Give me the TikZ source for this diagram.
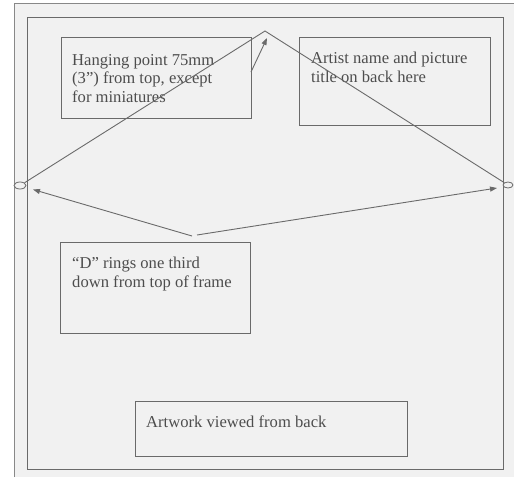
\documentclass[tikz,border=0pt]{standalone}
\usepackage{fontspec}
\setmainfont{Liberation Serif}
\usetikzlibrary{arrows.meta,shapes.geometric}
\definecolor{ln}{HTML}{6A6A6A}
\definecolor{tx}{HTML}{4D4D4D}
\definecolor{bg}{HTML}{F1F1F1}
\tikzset{
  boxn/.style={draw=ln, line width=0.9pt, inner sep=0pt, anchor=north west},
  lbl/.style={anchor=base west, inner sep=0pt, text=tx, font=\fontsize{16.6}{18.5}\selectfont, align=left},
  wire/.style={draw=ln, line width=0.9pt},
  arr/.style={draw=ln, line width=0.9pt, -{Triangle[length=7pt,width=5pt]}},
  ring/.style={draw=ln, line width=0.8pt, fill=bg}
}
\begin{document}
\begin{tikzpicture}[x=1pt,y=-1pt]
\useasboundingbox (0,0) rectangle (514,480);
\fill[white] (0,0) rectangle (514,480);
\fill[bg] (14,3) rectangle (514,477);
\draw[ln!80, line width=0.9pt] (14,477) -- (14,3) -- (514,3);
% inner frame
\node[boxn, minimum width=476pt, minimum height=452pt] (frame) at (27,17) {};
% boxes
\node[boxn, minimum width=190pt, minimum height=81pt] (hang) at (61,37) {};
\node[boxn, minimum width=191pt, minimum height=88pt] (artist) at (299,37) {};
\node[boxn, minimum width=190pt, minimum height=91pt] (dring) at (60,242) {};
\node[boxn, minimum width=272pt, minimum height=55pt] (back) at (135,401) {};
% labels (anchor = baseline of last line)
\node[lbl] (hangt) at (72,102) {Hanging point 75mm\\(3”) from top, except\\for miniatures};
\node[lbl] (artistt) at (311,82) {Artist name and picture\\title on back here};
\node[lbl] (dringt) at (72,287) {“D” rings one third\\down from top of frame};
\node[lbl] (backt) at (146,427) {Artwork viewed from back};
% rings
\node[ring, ellipse, minimum width=12pt, minimum height=7pt, inner sep=0pt] (lring) at (20,185.5) {};
\node[ring, ellipse, minimum width=10pt, minimum height=6pt, inner sep=0pt] (rring) at (508,185) {};
% wire
\coordinate (apex) at (265,31);
\draw[wire] (lring.north east) -- (apex) -- (rring.north west);
% arrows
\coordinate (hstart) at (251,72);
\coordinate (htip) at (267,38);
\draw[arr] (hstart) -- (htip);
\coordinate (dl) at (192,236);
\coordinate (dr) at (197,235);
\coordinate (ltip) at (33,189.5);
\coordinate (rtip) at (497,188);
\draw[arr] (dl) -- (ltip);
\draw[arr] (dr) -- (rtip);
\end{tikzpicture}
\end{document}
